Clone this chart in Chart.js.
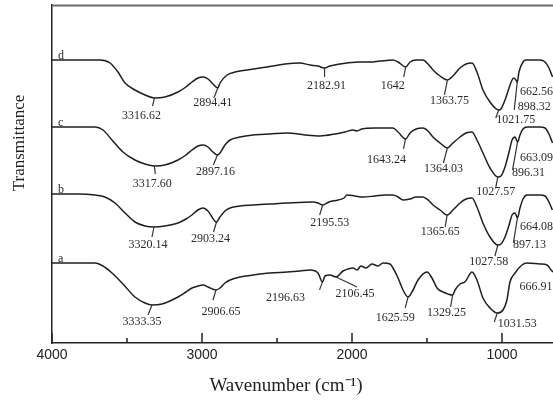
<!DOCTYPE html>
<html>
<head>
<meta charset="utf-8">
<script src="https://cdn.jsdelivr.net/npm/chart.js@4.4.1/dist/chart.umd.min.js"></script>
<style>
html,body{margin:0;padding:0;background:#fff;}
#wrap{width:553px;height:401px;}
</style>
</head>
<body>
<div id="wrap"><canvas id="c" width="553" height="401"></canvas></div>
<script>
// ---- data (wavenumber in cm-1, transmittance in arbitrary offset units) ----
const seriesNames = ['a', 'b', 'c', 'd'];

const aWn = [4000,3713,3660,3600,3527,3447,3380,3333,3267,3160,3107,3067,3027,2993,2960,2907,2880,2847,2813,2747,2660,2547,2433,2347,2280,2227,2197,2180,2147,2106,2060,2027,1993,1967,1940,1907,1867,1827,1793,1747,1727,1693,1660,1626,1593,1560,1500,1467,1433,1393,1329,1313,1280,1247,1200,1167,1127,1080,1032,993,967,947,913,867,833,747,700,673,660];
const aT  = [80,80,77,70,59,46,40,38,39,46,51,55,57,58,56,53,55,60,63,66,68,70,71,72,73,70,61,67,68,66,72,74,75,73,77,75,79,77,80,79,75,65,53,46,53,63,71,65,55,51,48,53,59,61,71,63,45,35,30,33,43,61,70,78,80,79,78,73,71];

const bWn = [4000,3827,3713,3647,3580,3513,3447,3380,3320,3247,3160,3107,3067,3027,2993,2960,2903,2880,2847,2813,2747,2660,2547,2433,2260,2227,2196,2153,2093,2053,2033,1980,1927,1847,1780,1727,1693,1660,1613,1573,1527,1493,1460,1413,1366,1327,1280,1240,1200,1167,1127,1080,1028,1007,980,953,933,913,897,880,860,833,747,713,687,664];
const bT  = [149,149,148,146,140,130,121,117,116,117,120,124,128,133,135,132,121,126,132,135,137,138,139,140,141,140,138,141,143,145,148,147,146,147,148,148,146,143,144,146,146,143,138,133,128,133,140,144,145,136,120,106,98,99,106,118,128,130,125,135,144,148,148,147,141,133];

const cWn = [4000,3713,3660,3600,3527,3447,3380,3318,3247,3160,3107,3067,3027,2993,2960,2927,2897,2880,2847,2813,2747,2660,2547,2433,2313,2213,2113,2047,1993,1967,1933,1847,1727,1693,1643,1613,1573,1527,1493,1460,1413,1364,1327,1280,1240,1200,1167,1127,1080,1028,1007,980,953,933,913,896,880,860,833,747,713,687,663];
const cT  = [216,216,213,203,191,183,179,177,178,183,188,193,197,198,196,191,188,190,198,203,206,208,209,210,208,207,209,211,213,212,214,215,215,211,204,210,214,215,212,206,200,195,200,206,210,211,203,190,175,166,167,176,191,203,206,201,208,214,216,216,215,209,200];

const dWn = [4000,3680,3613,3560,3513,3447,3380,3317,3247,3160,3107,3067,3027,2993,2960,2927,2894,2880,2833,2780,2700,2613,2527,2447,2347,2280,2227,2183,2147,2080,2033,1947,1880,1813,1727,1693,1642,1613,1573,1527,1493,1460,1413,1364,1327,1280,1240,1200,1167,1127,1080,1022,1007,980,953,933,920,907,898,887,860,840,813,747,713,687,663];
const dT  = [283,283,280,271,260,253,248,245,246,251,256,261,265,266,264,259,255,260,268,271,273,275,277,279,280,278,277,275,277,279,280,281,281,282,283,281,276,281,283,283,279,273,267,263,267,275,279,280,271,253,241,233,234,243,255,263,265,263,261,271,281,283,283,283,281,275,266];

// peak annotations (text as printed)
const aPeaks = ['3333.35','2906.65','2196.63','2106.45','1625.59','1329.25','1031.53','666.91'];
const bPeaks = ['3320.14','2903.24','2195.53','1365.65','1027.58','897.13','664.08'];
const cPeaks = ['3317.60','2897.16','1643.24','1364.03','1027.57','896.31','663.09'];
const dPeaks = ['3316.62','2894.41','2182.91','1642','1363.75','1021.75','898.32','662.56'];

// axis ticks
const xMajorTicks = [4000, 3000, 2000, 1000];
const xMinorTicks = [3500, 2500, 1500];

// ---- layout of annotation text (px offsets: leader dx, dy, text dx, dy) ----
const aLayout = [[-4,10,-10,17],[-3,10,5,22],[-3,8,-37,16],[21,10,19,17],[-3,11,-13,21],[-2,12,-6,18],[-3,9,20,11],[0,0,-16,16]];
const bLayout = [[-2,10,-6,18],[-3,10,-6,17],[-3,10,7,18],[-2,12,-7,17],[-3,11,-9,17],[-4,25,12,27],[0,0,-16,17]];
const cLayout = [[1,8,-2,18],[-4,10,-2,17],[-2,10,-19,21],[-4,15,-4,21],[-2,10,-2,15],[-5,28,11,31],[0,0,-16,15]];
const dLayout = [[-2,8,-13,18],[-4,10,-5,15],[0,9,2,18],[-2,10,-13,19],[-3,15,2,21],[-3,8,17,10],[-3,28,17,25],[0,0,-16,15]];

const series = [
  {name: seriesNames[0], wn: aWn, t: aT, peaks: aPeaks, layout: aLayout},
  {name: seriesNames[1], wn: bWn, t: bT, peaks: bPeaks, layout: bLayout},
  {name: seriesNames[2], wn: cWn, t: cT, peaks: cPeaks, layout: cLayout},
  {name: seriesNames[3], wn: dWn, t: dT, peaks: dPeaks, layout: dLayout}
];

const LINE = '#1f1f1f';
const SERIF = '"Liberation Serif", "Times New Roman", serif';

function valueAt(wns, ts, w) {
  for (let i = 0; i < wns.length - 1; i++) {
    const w0 = wns[i], w1 = wns[i + 1];
    if (w <= w0 && w >= w1) {
      const f = (w0 - w) / (w0 - w1);
      return ts[i] + f * (ts[i + 1] - ts[i]);
    }
  }
  return ts[ts.length - 1];
}

const decor = {
  id: 'decor',
  afterDraw(chart) {
    const ctx = chart.ctx;
    const xs = chart.scales.x, ys = chart.scales.y;
    const ca = chart.chartArea;
    ctx.save();
    // top frame line
    ctx.strokeStyle = '#6a6a6a';
    ctx.lineWidth = 2;
    ctx.beginPath();
    ctx.moveTo(ca.left, ca.top + 0.5);
    ctx.lineTo(chart.width, ca.top + 0.5);
    ctx.stroke();
    // inward ticks
    ctx.strokeStyle = '#222';
    ctx.lineWidth = 1.5;
    xMajorTicks.forEach(v => {
      const px = xs.getPixelForValue(v);
      ctx.beginPath(); ctx.moveTo(px, ca.bottom); ctx.lineTo(px, ca.bottom - 10); ctx.stroke();
    });
    xMinorTicks.forEach(v => {
      const px = xs.getPixelForValue(v);
      ctx.beginPath(); ctx.moveTo(px, ca.bottom); ctx.lineTo(px, ca.bottom - 5); ctx.stroke();
    });
    // annotations
    ctx.fillStyle = '#2a2a2a';
    ctx.strokeStyle = '#333';
    ctx.lineWidth = 1.2;
    ctx.font = '12px ' + SERIF;
    ctx.textAlign = 'center';
    ctx.textBaseline = 'middle';
    series.forEach(s => {
      s.peaks.forEach((lab, i) => {
        const w = parseFloat(lab);
        const [ldx, ldy, tdx, tdy] = s.layout[i];
        const x0 = xs.getPixelForValue(w);
        const y0 = ys.getPixelForValue(valueAt(s.wn, s.t, w));
        if (ldx !== 0 || ldy !== 0) {
          ctx.beginPath(); ctx.moveTo(x0, y0); ctx.lineTo(x0 + ldx, y0 + ldy); ctx.stroke();
        }
        ctx.fillText(lab, x0 + tdx, y0 + tdy);
      });
      // series letter
      const sx = xs.getPixelForValue(s.wn[0]);
      const sy = ys.getPixelForValue(s.t[0]);
      ctx.save();
      ctx.textAlign = 'left';
      ctx.textBaseline = 'alphabetic';
      ctx.font = '12px ' + SERIF;
      ctx.fillText(s.name, sx + 6, sy - 1);
      ctx.restore();
    });
    // axis titles
    ctx.fillStyle = '#222';
    ctx.font = '19px ' + SERIF;
    ctx.textAlign = 'center';
    ctx.textBaseline = 'middle';
    ctx.fillText('Wavenumber (cm\u207B\u00B9)', 286, 386);
    ctx.save();
    ctx.translate(20, 143);
    ctx.rotate(-Math.PI / 2);
    ctx.font = '17px ' + SERIF;
    ctx.fillText('Transmittance', 0, 0);
    ctx.restore();
    ctx.restore();
  }
};

const datasets = series.map(s => ({
  label: s.name,
  data: s.wn.map((w, i) => ({x: w, y: s.t[i]})),
  borderColor: LINE,
  borderWidth: 1.5,
  pointRadius: 0,
  fill: false,
  cubicInterpolationMode: 'monotone'
}));

new Chart(document.getElementById('c'), {
  type: 'line',
  data: {datasets},
  options: {
    responsive: false,
    animation: false,
    devicePixelRatio: 1,
    layout: {padding: {top: 5, left: 0, right: 0, bottom: 0}},
    plugins: {legend: {display: false}, tooltip: {enabled: false}},
    scales: {
      x: {
        type: 'linear', reverse: true, min: 660, max: 4000,
        afterBuildTicks: sc => { sc.ticks = xMajorTicks.map(v => ({value: v})); },
        afterFit: sc => { sc.height = 58; },
        grid: {display: false, drawTicks: false},
        border: {display: true, color: '#222', width: 1.5},
        ticks: {
          font: {family: '"Liberation Sans", Arial, sans-serif', size: 14},
          color: '#222', padding: 4, maxRotation: 0, autoSkip: false,
          callback: v => String(v)
        }
      },
      y: {
        min: 0, max: 338,
        afterFit: sc => { sc.width = 52; },
        grid: {display: false, drawTicks: false},
        border: {display: true, color: '#222', width: 1.5},
        ticks: {display: false}
      }
    }
  },
  plugins: [decor]
});
</script>
</body>
</html>
